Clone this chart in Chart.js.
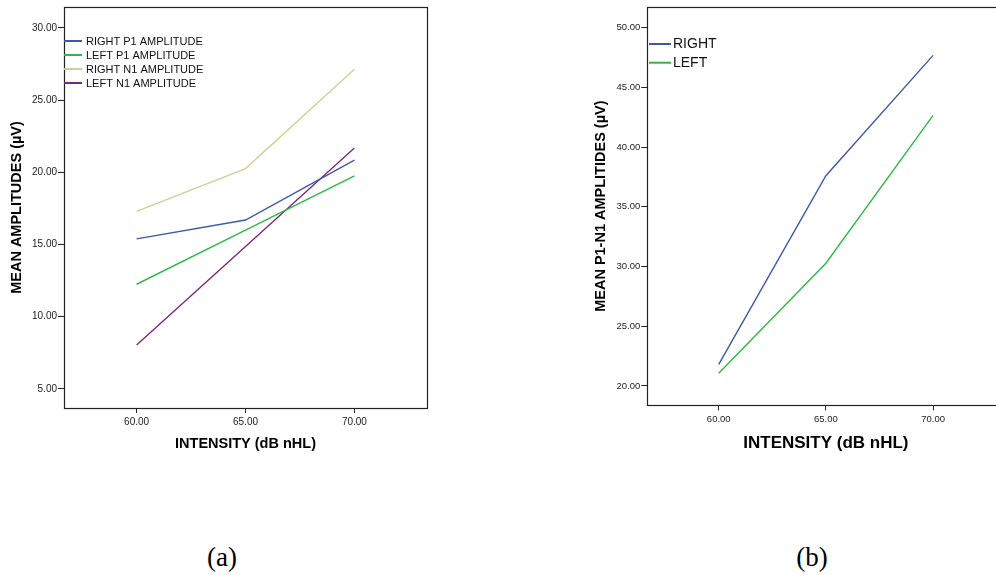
<!DOCTYPE html>
<html>
<head>
<meta charset="utf-8">
<script src="https://cdn.jsdelivr.net/npm/chart.js@4/dist/chart.umd.min.js"></script>
<style>
  html, body { margin: 0; padding: 0; background: #ffffff; overflow: hidden; width: 996px; height: 575px; }
  #wrapA { position: absolute; left: 0; top: 0; width: 440px; height: 470px; }
  #wrapB { position: absolute; left: 590px; top: 0; width: 430px; height: 470px; }
  .cap { position: absolute; font-family: "Liberation Serif", "Times New Roman", serif; font-size: 27px; color: #000; transform: translate(-50%, -50%); white-space: nowrap; }
</style>
</head>
<body>
<div id="wrapA"><canvas id="chartA" width="440" height="470"></canvas></div>
<div id="wrapB"><canvas id="chartB" width="430" height="470"></canvas></div>
<div class="cap" style="left:222px; top:557px;">(a)</div>
<div class="cap" style="left:812px; top:557px;">(b)</div>
<script>
// ---- data ----
const intensity = [60, 65, 70];
const xTicks = [60, 65, 70];

const rightP1 = [15.39, 16.70, 20.84];
const leftP1  = [12.25, 16.00, 19.75];
const rightN1 = [17.30, 20.26, 27.14];
const leftN1  = [8.05, 14.86, 21.69];
const seriesLabelsA = ["RIGHT P1 AMPLITUDE", "LEFT P1 AMPLITUDE", "RIGHT N1 AMPLITUDE", "LEFT N1 AMPLITUDE"];
const yTicksA = [5, 10, 15, 20, 25, 30];

const rightP1N1 = [21.81, 37.60, 47.68];
const leftP1N1  = [21.06, 30.28, 42.65];
const seriesLabelsB = ["RIGHT", "LEFT"];
const yTicksB = [20, 25, 30, 35, 40, 45, 50];

// ---- styles ----
const COLORS = ["#3E58AC", "#2EB848", "#D3CE97", "#7C287D"];
const SANS = "'Liberation Sans', Arial, Helvetica, sans-serif";
const AXIS = "#222222";

function pts(ys) { return intensity.map((x, i) => ({ x: x, y: ys[i] })); }

const framePlugin = {
  id: 'frame',
  afterDraw(chart) {
    const a = chart.chartArea, ctx = chart.ctx;
    ctx.save();
    ctx.strokeStyle = AXIS;
    ctx.lineWidth = 1.2;
    ctx.strokeRect(Math.round(a.left) + 0.5, Math.round(a.top) + 0.5,
                   Math.round(a.right - a.left), Math.round(a.bottom - a.top));
    ctx.restore();
  }
};

const innerLegend = {
  id: 'innerLegend',
  afterDraw(chart, args, opts) {
    const ctx = chart.ctx;
    ctx.save();
    ctx.font = opts.fontSize + "px " + SANS;
    ctx.textBaseline = 'middle';
    ctx.textAlign = 'left';
    chart.data.datasets.forEach((ds, i) => {
      const y = opts.y0 + i * opts.step;
      ctx.strokeStyle = ds.borderColor;
      ctx.lineWidth = 2;
      ctx.beginPath();
      ctx.moveTo(opts.x0, y);
      ctx.lineTo(opts.x1, y);
      ctx.stroke();
      ctx.fillStyle = '#111';
      ctx.fillText(ds.label, opts.tx, y + 0.5);
    });
    ctx.restore();
  }
};

function makeChart(id, datasets, cfg) {
  return new Chart(document.getElementById(id), {
    type: 'line',
    data: { datasets: datasets },
    options: {
      responsive: false,
      animation: false,
      devicePixelRatio: 1,
      layout: { padding: cfg.padding },
      elements: { point: { radius: 0, hoverRadius: 0 }, line: { tension: 0, borderWidth: 1.4 } },
      plugins: {
        legend: { display: false },
        tooltip: { enabled: false },
        innerLegend: cfg.legend
      },
      scales: {
        x: {
          type: 'linear',
          min: cfg.xmin, max: cfg.xmax,
          afterBuildTicks: s => { s.ticks = xTicks.map(v => ({ value: v })); },
          afterFit: s => { s.height = cfg.xHeight; },
          border: { display: false },
          grid: { display: true, drawOnChartArea: false, drawTicks: true, tickLength: 5, color: AXIS, lineWidth: 1 },
          ticks: { padding: 3, color: '#222', font: { family: SANS, size: cfg.tickSize }, callback: v => Number(v).toFixed(2), maxRotation: 0 },
          title: { display: true, text: 'INTENSITY (dB nHL)', color: '#000',
                   font: { family: SANS, size: cfg.xTitleSize, weight: 'bold' },
                   padding: { top: 0, bottom: cfg.xTitlePad } }
        },
        y: {
          type: 'linear',
          min: cfg.ymin, max: cfg.ymax,
          afterBuildTicks: s => { s.ticks = cfg.yTicks.map(v => ({ value: v })); },
          afterFit: s => { s.width = cfg.yWidth; },
          border: { display: false },
          grid: { display: true, drawOnChartArea: false, drawTicks: true, tickLength: 6, color: AXIS, lineWidth: 1 },
          ticks: { padding: 1, color: '#222', font: { family: SANS, size: cfg.tickSize }, callback: v => Number(v).toFixed(2) },
          title: { display: true, text: cfg.yTitle, color: '#000',
                   font: { family: SANS, size: cfg.yTitleSize, weight: 'bold' },
                   padding: { top: cfg.yTitlePad, bottom: 0 } }
        }
      }
    },
    plugins: [framePlugin, innerLegend]
  });
}

const dsA = [rightP1, leftP1, rightN1, leftN1].map((d, i) => ({
  label: seriesLabelsA[i], data: pts(d), borderColor: COLORS[i], backgroundColor: COLORS[i], fill: false
}));
makeChart('chartA', dsA, {
  padding: { top: 7, right: 13, left: 0, bottom: 0 },
  xmin: 56.667, xmax: 73.333, ymin: 3.68, ymax: 31.45,
  yTicks: yTicksA, xHeight: 62, yWidth: 64, tickSize: 10,
  xTitleSize: 14.5, xTitlePad: 17.3,
  yTitle: 'MEAN AMPLITUDES (µV)', yTitleSize: 14.5, yTitlePad: 8.3,
  legend: { x0: 64, x1: 82, tx: 86, y0: 41, step: 14, fontSize: 11 }
});

const dsB = [rightP1N1, leftP1N1].map((d, i) => ({
  label: seriesLabelsB[i], data: pts(d), borderColor: COLORS[i], backgroundColor: COLORS[i], fill: false
}));
makeChart('chartB', dsB, {
  padding: { top: 7, right: 15.5, left: 0, bottom: 0 },
  xmin: 56.667, xmax: 73.333, ymin: 18.38, ymax: 51.73,
  yTicks: yTicksB, xHeight: 64.7, yWidth: 57.3, tickSize: 9.5,
  xTitleSize: 17, xTitlePad: 16.8,
  yTitle: 'MEAN P1-N1 AMPLITIDES (µV)', yTitleSize: 14.5, yTitlePad: 2.3,
  legend: { x0: 59, x1: 81, tx: 83, y0: 44, step: 18.7, fontSize: 14 }
});
</script>
</body>
</html>
